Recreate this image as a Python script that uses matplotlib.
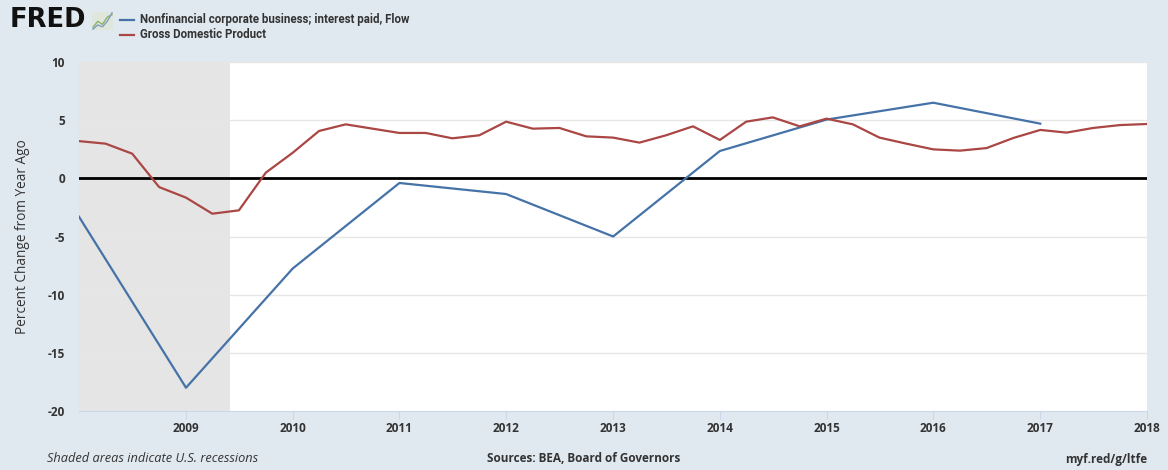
import numpy as np
import pandas as pd
import matplotlib
matplotlib.use("Agg")
import matplotlib.pyplot as plt
import matplotlib.dates as mdates

# annual series: nonfinancial corporate business interest paid, % change from year ago
interest_years = pd.to_datetime(["2008-01-01", "2009-01-01", "2010-01-01", "2011-01-01", "2012-01-01",
                                 "2013-01-01", "2014-01-01", "2015-01-01", "2016-01-01", "2017-01-01"])
interest_pct = [-3.3, -18.0, -7.75, -0.4, -1.35, -5.0, 2.35, 5.05, 6.5, 4.7]

# quarterly GDP, % change from year ago, 2008Q1 .. 2018Q1
gdp_quarters = pd.date_range("2008-01-01", "2018-01-01", freq="QS")
gdp_pct = [3.2, 2.98, 2.12, -0.75, -1.66, -3.04, -2.75, 0.49,
           2.2, 4.07, 4.64, 4.27, 3.9, 3.9, 3.44, 3.7,
           4.87, 4.27, 4.33, 3.61, 3.5, 3.07, 3.7, 4.47,
           3.3, 4.87, 5.24, 4.47, 5.13, 4.64, 3.5, 2.98,
           2.49, 2.38, 2.6, 3.47, 4.16, 3.93, 4.33, 4.58, 4.67]

recession = (pd.Timestamp("2007-12-01"), pd.Timestamp("2009-06-01"))
year_ticks = pd.to_datetime(["%d-01-01" % y for y in range(2009, 2019)])
year_labels = [str(y) for y in range(2009, 2019)]
y_ticks = [10, 5, 0, -5, -10, -15, -20]

bg = "#e1e9f0"
blue = "#4572a7"
red = "#aa4643"
txt = "#333333"
plt.rcParams['font.family'] = ['Open Sans', 'DejaVu Sans']

fig = plt.figure(figsize=(11.68, 4.70), dpi=100, facecolor=bg)
ax = fig.add_axes([79 / 1168, 59 / 470, 1068 / 1168, 349 / 470])
ax.set_facecolor("white")

ax.axvspan(recession[0], recession[1], color="#e5e5e5", lw=0, zorder=0)
for yv in y_ticks:
    if yv not in (0, -20):
        ax.axhline(yv, color="#e6e6e6", lw=1, zorder=1)
ax.axhline(0, color="black", lw=2, zorder=2)

ax.plot(interest_years, interest_pct, color=blue, lw=1.6, zorder=3)
ax.plot(gdp_quarters, gdp_pct, color=red, lw=1.6, zorder=3)

ax.set_xlim(pd.Timestamp("2008-01-01"), pd.Timestamp("2018-01-01"))
ax.set_ylim(-20, 10)
ax.set_xticks(year_ticks)
ax.set_xticklabels(year_labels, fontsize=8.5, fontweight="bold", color=txt)
ax.set_yticks(y_ticks)
ax.set_yticklabels([str(v) for v in y_ticks], fontsize=8.5, fontweight="bold", color=txt)
ax.tick_params(axis="x", length=6, color="#ccd6eb", pad=2)
ax.tick_params(axis="y", length=0, pad=10)
for s in ["top", "right", "left"]:
    ax.spines[s].set_visible(False)
ax.spines["bottom"].set_color("#ccd6eb")
ax.set_ylabel("Percent Change from Year Ago", fontsize=9.8, color=txt, labelpad=13)

# header: logo and legend
fig.text(10 / 1168, 1 - 20 / 470, "FRED", fontsize=18.5, fontweight="heavy", color="#111111",
         va="center", ha="left", family="DejaVu Sans")
icon = fig.add_axes([92 / 1168, 1 - 30 / 470, 21 / 1168, 18 / 470])
icon.set_facecolor("#dfe6dc")
icon.plot([0, 1, 2, 3, 4], [0.5, 1.5, 1.0, 2.2, 2.6], color="#8fb36a", lw=1)
icon.plot([0, 1, 2, 3, 4], [0.2, 0.9, 0.6, 1.5, 2.9], color="#7fa0c0", lw=1)
icon.set_xticks([]); icon.set_yticks([])
for s in icon.spines.values():
    s.set_visible(False)

fig.lines.append(plt.Line2D([120 / 1168, 134 / 1168], [1 - 20 / 470] * 2, color=blue, lw=1.6,
                            transform=fig.transFigure))
fig.lines.append(plt.Line2D([120 / 1168, 134 / 1168], [1 - 35 / 470] * 2, color=red, lw=1.6,
                            transform=fig.transFigure))
fig.text(140 / 1168, 1 - 20 / 470, "Nonfinancial corporate business; interest paid, Flow",
         fontsize=8.3, fontweight="bold", color=txt, va="center", family=["Roboto", "DejaVu Sans"])
fig.text(140 / 1168, 1 - 35 / 470, "Gross Domestic Product",
         fontsize=8.3, fontweight="bold", color=txt, va="center", family=["Roboto", "DejaVu Sans"])

# footer
fig.text(47 / 1168, 1 - 459 / 470, "Shaded areas indicate U.S. recessions", fontsize=9.2,
         style="italic", color=txt, va="center")
fig.text(584 / 1168, 1 - 459 / 470, "Sources: BEA, Board of Governors", fontsize=8.5,
         fontweight="bold", color=txt, va="center", ha="center")
fig.text(1147 / 1168, 1 - 459 / 470, "myf.red/g/ltfe", fontsize=8.5,
         fontweight="bold", color=txt, va="center", ha="right")

fig.savefig("out.png", dpi=100, facecolor=bg)
